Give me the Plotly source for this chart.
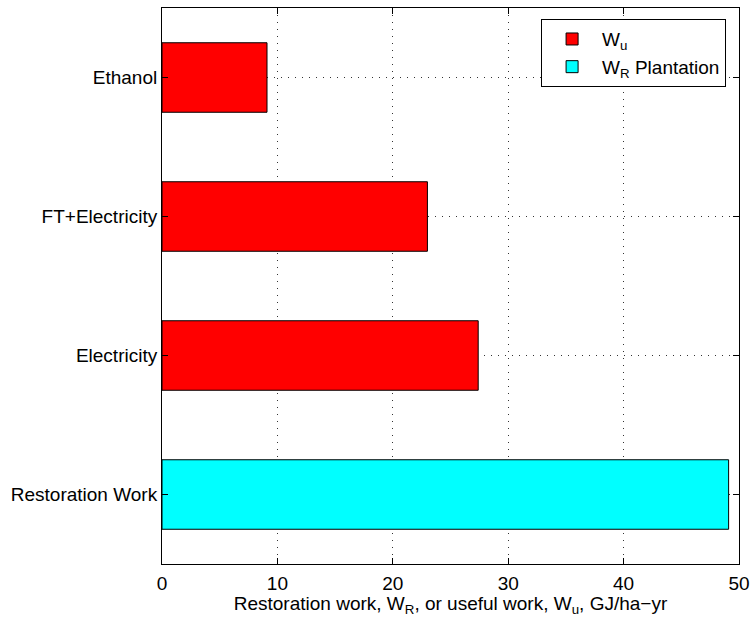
import plotly.graph_objects as go

categories_order = ["Restoration Work", "Electricity", "FT+Electricity", "Ethanol"]
wu_categories = ["Ethanol", "FT+Electricity", "Electricity"]
wu_values = [9.1, 23.0, 27.4]
wr_categories = ["Restoration Work"]
wr_values = [49.1]
x_ticks = [0, 10, 20, 30, 40, 50]

font_family = "Liberation Sans, Arial, sans-serif"
grid_dash = "1px,6px"

fig = go.Figure()
fig.add_trace(go.Bar(
    y=wu_categories, x=wu_values, orientation="h", width=0.5,
    name="W<sub>u</sub>",
    marker=dict(color="#ff0000", line=dict(color="black", width=1)),
))
fig.add_trace(go.Bar(
    y=wr_categories, x=wr_values, orientation="h", width=0.5,
    name="W<sub>R</sub> Plantation",
    marker=dict(color="#00ffff", line=dict(color="black", width=1)),
))

fig.update_layout(
    width=754, height=617,
    barmode="overlay",
    plot_bgcolor="white", paper_bgcolor="white",
    margin=dict(l=162, r=15, t=8, b=53),
    font=dict(family=font_family, size=19, color="black"),
    showlegend=True,
    legend=dict(
        x=0.657, y=0.98, xanchor="left", yanchor="top",
        bordercolor="black", borderwidth=1, bgcolor="white",
        font=dict(size=19),
        traceorder="normal",
        itemwidth=50,
    ),
    xaxis=dict(
        range=[0, 50], tickvals=x_ticks,
        automargin=False,
        showgrid=True, gridcolor="#333333", griddash=grid_dash, gridwidth=1,
        showline=True, linecolor="black", linewidth=1, mirror="allticks",
        ticks="inside", ticklen=6, tickcolor="black",
        ticklabelstandoff=2,
        zeroline=False,
        title=dict(text="Restoration work, W<sub>R</sub>, or useful work, W<sub>u</sub>, GJ/ha−yr",
                   standoff=8, font=dict(size=19)),
        tickfont=dict(size=19),
    ),
    yaxis=dict(
        type="category", categoryorder="array", categoryarray=categories_order,
        range=[-0.5, 3.5],
        automargin=False,
        showgrid=True, gridcolor="#333333", griddash=grid_dash, gridwidth=1,
        showline=True, linecolor="black", linewidth=1, mirror="allticks",
        ticks="inside", ticklen=6, tickcolor="black",
        zeroline=False,
        tickfont=dict(size=19),
    ),
)

fig.write_html(
    "out.html",
    config={"displayModeBar": False},
    post_script="document.body.style.margin='0';document.body.style.overflow='hidden';",
)
